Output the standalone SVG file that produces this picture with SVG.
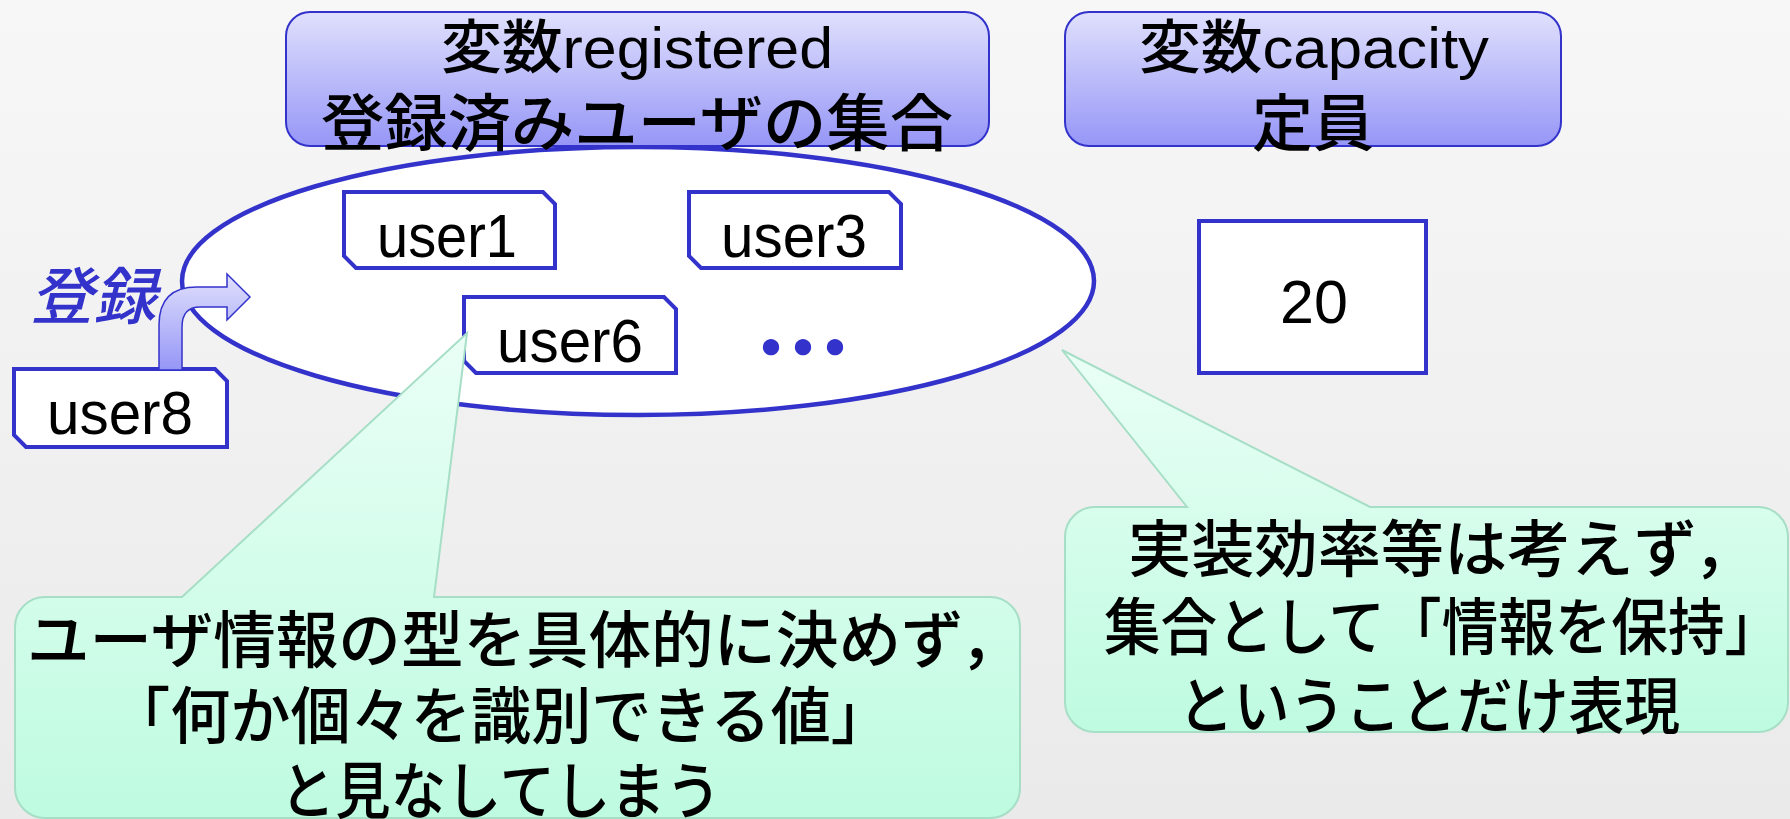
<svg xmlns="http://www.w3.org/2000/svg" width="1790" height="819" viewBox="0 0 1790 819">
  <defs>
    <linearGradient id="bg" x1="0" y1="0" x2="0" y2="1">
      <stop offset="0" stop-color="#F7F7F7"/>
      <stop offset="1" stop-color="#EAEAEA"/>
    </linearGradient>
    <linearGradient id="lav" x1="0" y1="0" x2="0" y2="1">
      <stop offset="0" stop-color="#E0E0FD"/>
      <stop offset="1" stop-color="#9696F7"/>
    </linearGradient>
    <linearGradient id="mint" x1="0" y1="0" x2="0" y2="1">
      <stop offset="0" stop-color="#EAFFF6"/>
      <stop offset="1" stop-color="#BEFBE0"/>
    </linearGradient>
  </defs>
  <style>
    .t { font-family: "Liberation Sans", "Noto Sans CJK JP", sans-serif; fill: #000; font-weight: 500; }
    .title { stroke: #3333CC; stroke-width: 2; fill: url(#lav); }
    .item { stroke: #3333CC; stroke-width: 4; fill: #FFFFFF; stroke-linejoin: miter; }
    .note { stroke: #A6DEC6; stroke-width: 2; fill: url(#mint); stroke-linejoin: miter; }
    .arrow { stroke: #3333CC; stroke-width: 1.5; fill: url(#lav); }
  </style>
  <rect x="0" y="0" width="1790" height="819" fill="url(#bg)"/>

  <g id="node-set">
    <ellipse cx="638" cy="281" rx="456" ry="134" fill="#FFFFFF" stroke="#3333CC" stroke-width="4.5"/>
  </g>

  <g id="node-user1">
    <path class="item" d="M344,192 L543,192 L555,204 L555,268 L356,268 L344,256 Z"/>
    <text class="t" x="377" y="257" font-size="61" textLength="140" lengthAdjust="spacingAndGlyphs">user1</text>
  </g>
  <g id="node-user3">
    <path class="item" d="M689,192 L889,192 L901,204 L901,268 L701,268 L689,256 Z"/>
    <text class="t" x="721" y="257" font-size="61" textLength="146" lengthAdjust="spacingAndGlyphs">user3</text>
  </g>
  <g id="node-user6">
    <path class="item" d="M464,297 L664,297 L676,309 L676,373 L476,373 L464,361 Z"/>
    <text class="t" x="497" y="362" font-size="61" textLength="146" lengthAdjust="spacingAndGlyphs">user6</text>
  </g>
  <g id="node-dots">
    <text class="t" x="736" y="374" font-size="70" letter-spacing="-38" style="fill:#3333CC">・・・</text>
  </g>

  <g id="node-registered-label">
    <rect class="title" x="286" y="12" width="703" height="134" rx="24" ry="24"/>
    <text class="t" x="637" y="68" font-size="58" text-anchor="middle" textLength="392" lengthAdjust="spacingAndGlyphs">変数registered</text>
    <text class="t" x="637" y="146" font-size="62" text-anchor="middle" textLength="632" lengthAdjust="spacingAndGlyphs">登録済みユーザの集合</text>
  </g>

  <g id="node-capacity-label">
    <rect class="title" x="1065" y="12" width="496" height="134" rx="24" ry="24"/>
    <text class="t" x="1314" y="68" font-size="58" text-anchor="middle" textLength="350" lengthAdjust="spacingAndGlyphs">変数capacity</text>
    <text class="t" x="1313" y="146" font-size="62" text-anchor="middle" textLength="122" lengthAdjust="spacingAndGlyphs">定員</text>
  </g>

  <g id="node-capacity-value">
    <rect class="item" x="1199" y="221" width="227" height="152"/>
    <text class="t" x="1314" y="323" font-size="61" text-anchor="middle">20</text>
  </g>

  <g id="node-user8">
    <path class="item" d="M14,369 L215,369 L227,381 L227,447 L26,447 L14,435 Z"/>
    <text class="t" x="47" y="434" font-size="61" textLength="146" lengthAdjust="spacingAndGlyphs">user8</text>
  </g>

  <g id="connectors">
    <path class="arrow" d="M159,370 L159,325 Q159,287 197,287 L227,287 L227,274 L250,297 L227,320 L227,307 L200,307 Q182,307 182,327 L182,370 Z"/>
    <text class="t" x="30" y="319" font-size="62" font-style="italic" textLength="126" lengthAdjust="spacingAndGlyphs" style="fill:#3333CC">登録</text>
  </g>

  <g id="node-note1">
    <path class="note" d="M45,597 L182,597 L467,333 L434,597 L990,597 A30,30 0 0 1 1020,627 L1020,788 A30,30 0 0 1 990,818 L45,818 A30,30 0 0 1 15,788 L15,627 A30,30 0 0 1 45,597 Z"/>
    <text class="t" x="27" y="663" font-size="62" textLength="996" lengthAdjust="spacingAndGlyphs">ユーザ情報の型を具体的に決めず，</text>
    <text class="t" x="110" y="739" font-size="62" textLength="781" lengthAdjust="spacingAndGlyphs">「何か個々を識別できる値」</text>
    <text class="t" x="280" y="814" font-size="62" textLength="441" lengthAdjust="spacingAndGlyphs">と見なしてしまう</text>
  </g>

  <g id="node-note2">
    <path class="note" d="M1095,507 L1187,507 L1062,350 L1370,507 L1758,507 A30,30 0 0 1 1788,537 L1788,702 A30,30 0 0 1 1758,732 L1095,732 A30,30 0 0 1 1065,702 L1065,537 A30,30 0 0 1 1095,507 Z"/>
    <text class="t" x="1128" y="572" font-size="62" textLength="629" lengthAdjust="spacingAndGlyphs">実装効率等は考えず，</text>
    <text class="t" x="1104" y="650" font-size="62" textLength="677" lengthAdjust="spacingAndGlyphs">集合として「情報を保持」</text>
    <text class="t" x="1178" y="729" font-size="62" textLength="502" lengthAdjust="spacingAndGlyphs">ということだけ表現</text>
  </g>
</svg>
